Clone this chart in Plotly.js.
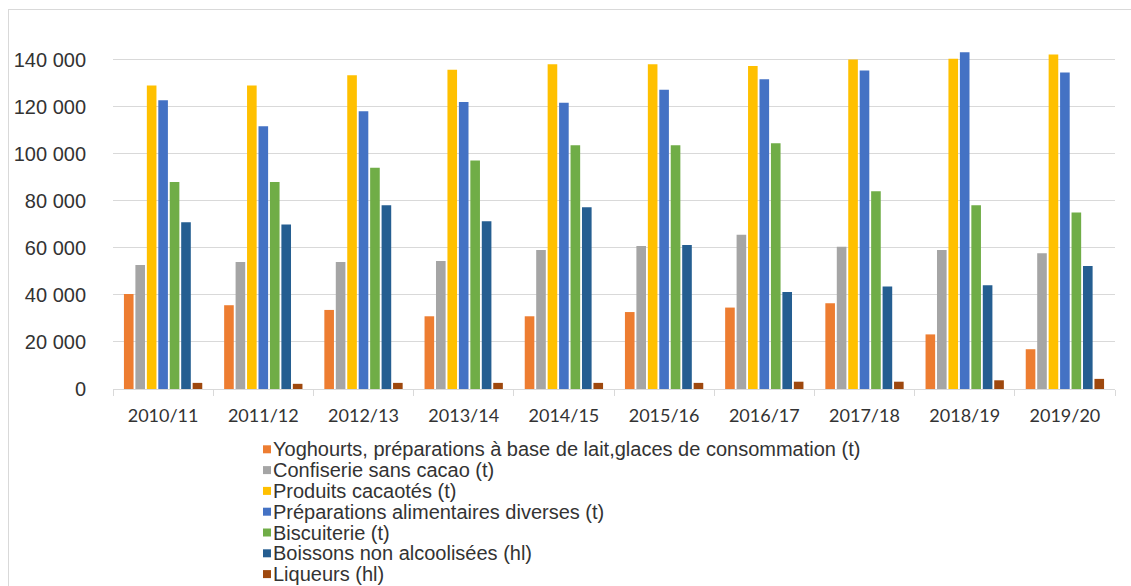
<!DOCTYPE html>
<html>
<head>
<meta charset="utf-8">
<script src="https://cdn.plot.ly/plotly-3.0.1.min.js"></script>
<style>
  html, body { margin: 0; padding: 0; background: #fff; }
  #wrap { position: relative; width: 1131px; height: 586px; overflow: hidden; }
  #chart { position: absolute; left: 0; top: 0; width: 1131px; height: 586px; }
  #frame { position: absolute; left: 8px; top: 9px; width: 1200px; height: 700px;
           border-left: 1px solid #d9d9d9; border-top: 1px solid #d9d9d9; pointer-events: none; }
</style>
</head>
<body>
<div id="wrap">
  <div id="chart"></div>
  <div id="frame"></div>
</div>
<script>
// Campaigns
const campaigns = ["2010/11", "2011/12", "2012/13", "2013/14", "2014/15",
                   "2015/16", "2016/17", "2017/18", "2018/19", "2019/20"];

// Series (volumes per campaign)
const yoghourts   = [40400, 35600, 33600, 30900, 30900, 32700, 34600, 36400, 23200, 16900];
const confiserie  = [52700, 54000, 54000, 54400, 59100, 60800, 65500, 60400, 59100, 57700];
const cacaotes    = [129000, 129000, 133300, 135700, 138000, 138000, 137200, 140000, 140300, 142100];
const preparations= [122700, 111700, 118000, 122000, 121600, 127200, 131600, 135300, 143100, 134500];
const biscuiterie = [88000, 88000, 94000, 97100, 103600, 103600, 104400, 84000, 78100, 75000];
const boissons    = [70900, 69900, 78100, 71300, 77200, 61200, 41200, 43600, 44100, 52300];
const liqueurs    = [2600, 2200, 2600, 2600, 2600, 2600, 3100, 3100, 3700, 4300];

const seriesNames = [
  "Yoghourts, préparations à base de lait,glaces de consommation (t)",
  "Confiserie sans cacao (t)",
  "Produits cacaotés (t)",
  "Préparations alimentaires diverses (t)",
  "Biscuiterie (t)",
  "Boissons non alcoolisées (hl)",
  "Liqueurs (hl)"
];
const seriesValues = [yoghourts, confiserie, cacaotes, preparations, biscuiterie, boissons, liqueurs];
const seriesColors = ["#ED7D31", "#A5A5A5", "#FFC000", "#4472C4", "#70AD47", "#255E91", "#9E480E"];

// Y axis ticks
const yTicks = [0, 20000, 40000, 60000, 80000, 100000, 120000, 140000];

const traces = seriesNames.map((name, i) => ({
  type: "bar",
  name: name,
  x: campaigns,
  y: seriesValues[i],
  marker: { color: seriesColors[i] },
  showlegend: false,
  hoverinfo: "x+y+name"
}));

// Legend drawn below the plot as a list: swatch + label per series
const plotLeft = 113, plotWidth = 1002;
const legendFirstY = 60.3, legendStep = 20.8;
const swatchX = (263 - plotLeft) / plotWidth;
const labelX = (271 - plotLeft) / plotWidth;

const annotations = seriesNames.map((name, i) => ({
  xref: "paper", yref: "paper",
  x: labelX, y: 0,
  xanchor: "left", yanchor: "middle",
  yshift: -(legendFirstY + i * legendStep),
  text: name,
  showarrow: false,
  font: { family: "Liberation Sans, Arial, sans-serif", size: 20, color: "#333333" }
}));

const shapes = seriesColors.map((c, i) => {
  const cy = -(legendFirstY + i * legendStep);
  return {
    type: "rect",
    xref: "paper", yref: "paper",
    xsizemode: "pixel", ysizemode: "pixel",
    xanchor: swatchX, yanchor: 0,
    x0: 0, x1: 8, y0: cy - 4, y1: cy + 4,
    fillcolor: c, line: { width: 0 }
  };
});

const layout = {
  width: 1131, height: 586,
  margin: { l: 113, r: 16, t: 36, b: 197 },
  paper_bgcolor: "rgba(0,0,0,0)",
  plot_bgcolor: "#ffffff",
  separators: ", ",
  barmode: "group",
  bargap: 0.2,
  bargroupgap: 0.16,
  xaxis: {
    type: "category",
    showgrid: false,
    showline: true, linecolor: "#d9d9d9", linewidth: 1,
    ticks: "outside", tickson: "boundaries", ticklen: 6, tickcolor: "#d9d9d9",
    ticklabelstandoff: 10,
    tickfont: { family: "Lato, sans-serif", size: 18, color: "#333333" },
    zeroline: false
  },
  yaxis: {
    range: [0, 150000],
    tickvals: yTicks,
    tickformat: ",d",
    showgrid: true, gridcolor: "#d9d9d9", gridwidth: 1,
    zeroline: false,
    showline: false,
    ticks: "",
    ticklabelstandoff: 26,
    tickfont: { family: "Liberation Sans, Arial, sans-serif", size: 20, color: "#333333" }
  },
  annotations: annotations,
  shapes: shapes,
  font: { family: "Liberation Sans, Arial, sans-serif" }
};

Plotly.newPlot("chart", traces, layout, { displayModeBar: false, staticPlot: true });
</script>
</body>
</html>
